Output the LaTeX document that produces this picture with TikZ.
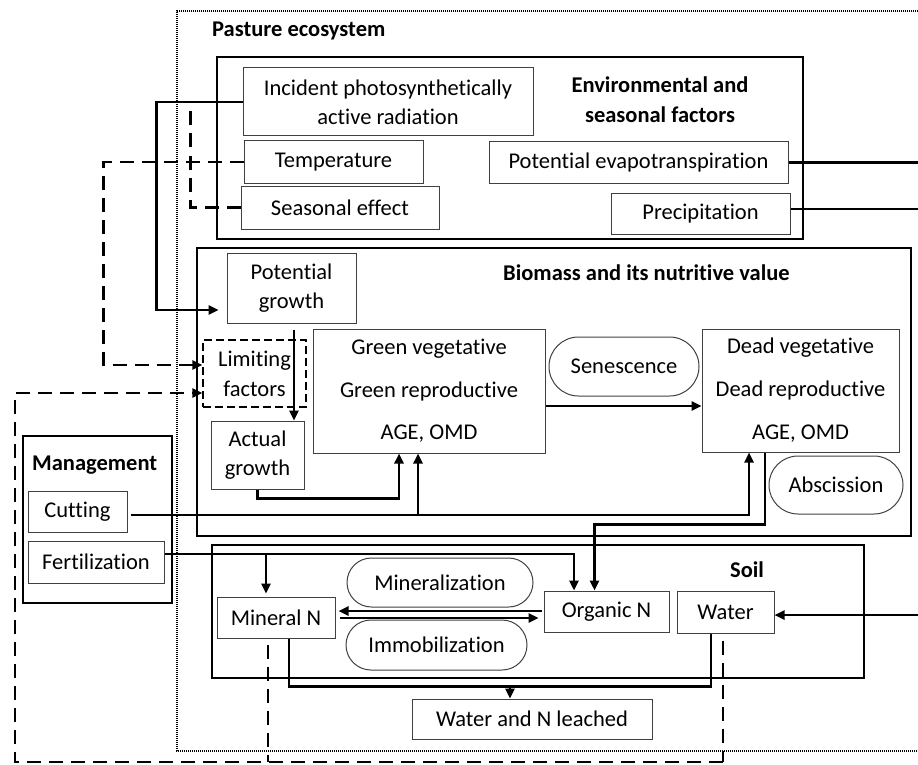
\documentclass[tikz,border=0pt]{standalone}
\usepackage{fontspec}
\setmainfont{Carlito}[Ligatures=NoCommon]
\usetikzlibrary{arrows.meta,shapes.misc}
\begin{document}
\begin{tikzpicture}[x=1pt,y=-1pt,
  font=\fontsize{22.5}{27}\selectfont,
  ibox/.style={draw=black!75, line width=1pt, inner sep=0pt, align=center},
  obox/.style={draw=black, line width=1.7pt, inner sep=0pt},
  caps/.style={rounded rectangle, draw=black!75, line width=1pt, inner sep=0pt},
  ttl/.style={font=\fontsize{22.5}{30}\selectfont\bfseries, inner sep=0pt, align=center},
  conn/.style={line width=2.4pt},
  dconn/.style={line width=2.4pt, dash pattern=on 14pt off 8pt},
  arrowed/.style={-{Triangle[length=10pt,width=9pt]}},
  dotbox/.style={line width=1.1pt, dash pattern=on 1pt off 1pt}
]
\useasboundingbox (0,0) rectangle (918,765);
\coordinate (edgeR) at (918,0);
\coordinate (bl) at (15,762);

% pasture ecosystem dotted frame
\draw[dotbox] (918,11) -- (177,11) -- (177,751) -- (918,751);
\node[ttl, anchor=west] (pasture) at (212,31) {Pasture ecosystem};

% outer boxes
\node[obox, minimum width=586pt, minimum height=182pt] (env) at (510,148) {};
\node[obox, minimum width=714pt, minimum height=288pt] (bio) at (554,392) {};
\node[obox, minimum width=652pt, minimum height=133pt] (soil) at (538,611.5) {};
\node[obox, minimum width=149pt, minimum height=167pt] (mgmt) at (97.5,519.5) {};

% titles
\node[ttl] (envt) at (660,100) {Environmental and\\seasonal factors};
\node[ttl, anchor=west] (biot) at (503,273) {Biomass and its nutritive value};
\node[ttl] (soilt) at (747,570) {Soil};
\node[ttl, anchor=west] (mgmtt) at (32,465) {Management};

% environmental factors
\node[ibox, minimum width=290pt, minimum height=68pt, font=\fontsize{22.5}{29}\selectfont] (par) at (388,102) {Incident photosynthetically\\active radiation};
\node[ibox, minimum width=179pt, minimum height=42pt] (temp) at (333.5,162) {Temperature};
\node[ibox, minimum width=198pt, minimum height=43pt] (seas) at (340,207.5) {Seasonal effect};
\node[ibox, minimum width=299pt, minimum height=41pt] (pe) at (638.5,162.5) {Potential evapotranspiration};
\node[ibox, minimum width=179pt, minimum height=41pt] (prec) at (700.5,213.5) {Precipitation};

% biomass
\node[ibox, minimum width=129pt, minimum height=70pt, font=\fontsize{22.5}{29}\selectfont] (pot) at (291.5,288) {Potential\\growth};
\node[ibox, draw=black, dash pattern=on 8pt off 4pt, line width=1.2pt, minimum width=103pt, minimum height=67pt, font=\fontsize{22.5}{30}\selectfont] (lim) at (254.5,373.5) {Limiting\\factors};
\node[ibox, minimum width=93pt, minimum height=68pt, font=\fontsize{22.5}{29}\selectfont] (act) at (257.5,455) {Actual\\growth};
\node[ibox, minimum width=232pt, minimum height=124pt, font=\fontsize{22.5}{42.5}\selectfont] (green) at (429,391) {Green vegetative\\Green reproductive\\AGE, OMD};
\node[caps, minimum width=150pt, minimum height=59pt] (sen) at (624,366.5) {Senescence};
\node[ibox, minimum width=197pt, minimum height=123pt, font=\fontsize{22.5}{43}\selectfont] (dead) at (800.5,390.5) {Dead vegetative\\Dead reproductive\\AGE, OMD};
\node[caps, minimum width=134pt, minimum height=58pt] (absc) at (836,485) {Abscission};

% management
\node[ibox, minimum width=99pt, minimum height=41pt] (cut) at (77.5,511.5) {Cutting};
\node[ibox, minimum width=136pt, minimum height=42pt] (fert) at (96,562) {Fertilization};

% soil
\node[ibox, minimum width=118pt, minimum height=41pt] (minN) at (276,617.5) {Mineral N};
\node[caps, minimum width=186pt, minimum height=49pt] (minz) at (440,582.5) {Mineralization};
\node[caps, minimum width=181pt, minimum height=50pt] (immo) at (436.5,645) {Immobilization};
\node[ibox, minimum width=125pt, minimum height=41pt] (orgN) at (606.5,611.5) {Organic N};
\node[ibox, minimum width=97pt, minimum height=42pt] (water) at (725.5,612) {Water};
\node[ibox, minimum width=240pt, minimum height=40pt] (leach) at (532,719) {Water and N leached};

% ---- connectors ----
% radiation to potential growth
\draw[conn, arrowed, shorten >=8pt] (par.west) -- ++(-86,0) |- ([yshift=-22pt]pot.west);
% seasonal effect joins radiation line
\draw[dconn] (seas.west) -| ([xshift=-52pt]par.west);
% temperature to limiting factors
\draw[dconn, arrowed] (temp.west) -- ++(-140,0) |- ([yshift=8.5pt]lim.west);
% water and N limitation loop
\draw[dconn, shorten <=7pt] ([xshift=-2.5pt]water.south) -- ([xshift=-2.5pt]water.south |- bl);
\draw[dconn, shorten <=6pt] ([xshift=-8pt]minN.south) -- ([xshift=-8pt]minN.south |- bl);
\draw[dconn, arrowed] ([xshift=-2.5pt]water.south |- bl) -- (bl) |- ([yshift=-19.5pt]lim.west);

% growth chain
\draw[conn, arrowed, shorten <=6pt] ([xshift=2.5pt]pot.south) -- ([xshift=2.5pt]pot.south |- act.north);
\draw[conn, arrowed] (act.south) -- ++(0,9) -| ([xshift=-30pt]green.south);
% cutting
\draw[conn, arrowed, shorten <=3pt] ([yshift=-3.5pt]cut.east) -| ([xshift=-51.5pt]dead.south);
\draw[conn, arrowed] ([xshift=-11pt]green.south |- 0,515) -- ([xshift=-11pt]green.south);
% senescence
\draw[conn, arrowed] ([yshift=-15pt]green.east) -- ([yshift=-15pt]green.east -| dead.west);
% abscission to organic N
\draw[conn, arrowed] ([xshift=-35.5pt]dead.south) -- ++(0,72) -| ([xshift=-12pt]orgN.north);
% fertilization
\coordinate (fy) at ([yshift=8pt]fert.east);
\draw[conn, arrowed] (fy) -| ([xshift=-32.5pt]orgN.north);
\draw[conn, arrowed, shorten >=3pt] ([xshift=-10pt]minN.north |- fy) -- ([xshift=-10pt]minN.north);
% mineralization / immobilization
\draw[conn, arrowed, shorten <=2pt, shorten >=3pt] ([yshift=0.5pt]orgN.west) -- ([yshift=0.5pt]orgN.west -| minN.east);
\draw[conn, arrowed, shorten <=4pt, shorten >=5pt] ([yshift=-0.5pt]minN.east) -- ([yshift=-0.5pt]minN.east -| orgN.west);
% leaching
\coordinate (ly) at ([xshift=13pt,yshift=-48pt]minN.south);
\draw[conn] ([xshift=13pt]minN.south) -- (ly) -| ([xshift=-14.5pt]water.south);
\draw[conn, arrowed] ([xshift=-22pt]leach.north |- ly) -- ([xshift=-22pt]leach.north);
% external water inputs
\draw[conn] (pe.east) -- (pe.east -| edgeR);
\draw[conn] ([yshift=4.5pt]prec.east) -- ([yshift=4.5pt]prec.east -| edgeR);
\coordinate (wr) at (918,615);
\draw[conn, arrowed] (wr) -- (water.east |- wr);
\end{tikzpicture}
\end{document}
